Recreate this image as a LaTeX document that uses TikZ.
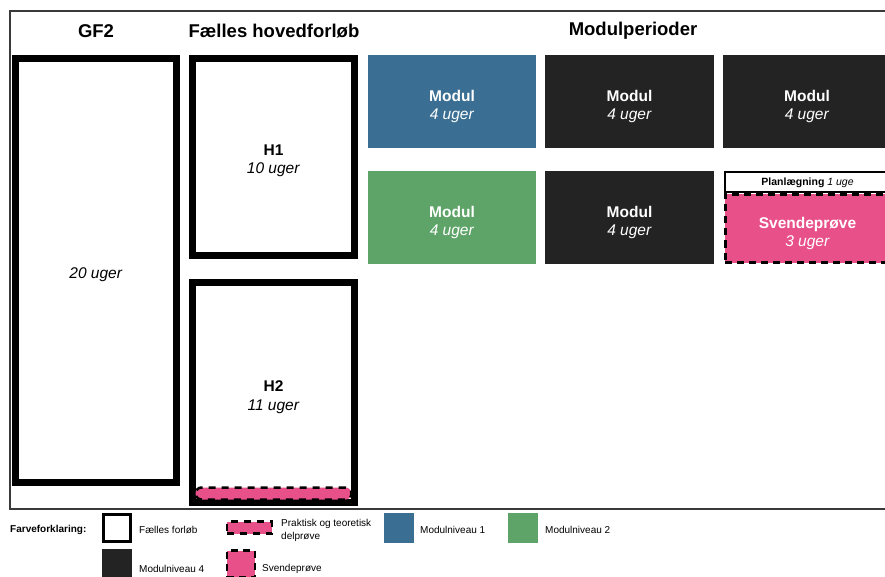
\documentclass[tikz,border=0pt]{standalone}
\usepackage{fontspec}
\setmainfont{Liberation Sans}
\definecolor{mblue}{HTML}{3A6F93}
\definecolor{mgreen}{HTML}{5EA469}
\definecolor{mdark}{HTML}{232323}
\definecolor{mpink}{HTML}{E8508A}
\definecolor{frameline}{HTML}{3A3A3A}
\begin{document}
\begin{tikzpicture}[x=1pt,y=-1pt,
  heading/.style={font=\fontsize{18.5}{22}\selectfont\bfseries, inner sep=0pt},
  thickbox/.style={draw=black, line width=7pt, fill=white, inner sep=0pt},
  boxtext/.style={inner sep=0pt, align=center, font=\fontsize{15.5}{18.5}\selectfont},
  modbox/.style={inner sep=0pt},
  modtext/.style={boxtext, text=white},
  dashedpink/.style={fill=mpink, draw=black, line width=3pt, dash pattern=on 7pt off 5pt, inner sep=0pt},
  legtext/.style={anchor=west, inner sep=0pt, align=left, font=\fontsize{10}{13}\selectfont},
  legsq/.style={minimum width=30pt, minimum height=30pt, inner sep=0pt},
]
\clip (0,0) rectangle (885,577);
\useasboundingbox (0,0) rectangle (885,577);
\fill[white] (0,0) rectangle (885,577);
% frame
\draw[frameline, line width=1.3pt] (10,11) rectangle (900,509);

% headings
\node[heading] (hgf) at (96,31) {GF2};
\node[heading] (hfh) at (274,31) {Fælles hovedforløb};
\node[heading] (hmp) at (633,31) {Modulperioder};

% GF2 and H1/H2
\node[thickbox, minimum width=161pt, minimum height=424pt] (gf2) at (96,270.5) {};
\node[boxtext] (gf2t) at ([yshift=-4pt]gf2.center) {\textit{20 uger}};
\node[thickbox, minimum width=162pt, minimum height=197pt] (h1) at (273.5,157) {};
\node[boxtext] (h1t) at ([yshift=-4pt]h1.center) {\textbf{H1}\\\textit{10 uger}};
\node[thickbox, minimum width=162pt, minimum height=220pt] (h2) at (273.5,392.5) {};
\node[boxtext] (h2t) at (273.5,397) {\textbf{H2}\\\textit{11 uger}};
\node[dashedpink, line width=2.5pt, dash pattern=on 7pt off 6pt, rounded corners=6pt,
  minimum width=156pt, minimum height=12pt] (delp) at (273.5,493.5) {};

% modules
\node[modbox, fill=mblue, minimum width=168pt, minimum height=93pt] (m11) at (452,101.5) {};
\node[modbox, fill=mdark, minimum width=169pt, minimum height=93pt] (m12) at (629.5,101.5) {};
\node[modbox, fill=mdark, minimum width=168pt, minimum height=93pt] (m13) at (807,101.5) {};
\node[modbox, fill=mgreen, minimum width=168pt, minimum height=93pt] (m21) at (452,217.5) {};
\node[modbox, fill=mdark, minimum width=169pt, minimum height=93pt] (m22) at (629.5,217.5) {};
\foreach \m in {m11,m12,m13,m21,m22}{
  \node[modtext] (\m t) at ([yshift=-5pt]\m.center) {\textbf{Modul}\\\textit{4 uger}};
}
\node[draw=black, line width=2pt, fill=white, inner sep=0pt, minimum width=165pt, minimum height=20pt,
  font=\fontsize{10.5}{12}\selectfont] (plan) at (807.5,182.5) {\textbf{Planlægning} \textit{1 uge}};
\node[dashedpink, minimum width=165pt, minimum height=68pt] (svend) at (807.5,228.5) {};
\node[modtext] (svendt) at ([yshift=-5pt]svend.center) {\textbf{Svendeprøve}\\\textit{3 uger}};

% legend
\node[anchor=west, inner sep=0pt, font=\fontsize{10}{12}\selectfont\bfseries] (leg) at (10,530) {Farveforklaring:};
\node[legsq, draw=black, line width=3pt, fill=white, minimum width=27pt, minimum height=27pt] (l1) at (117,528) {};
\node[legtext] (l1t) at (139,530) {Fælles forløb};
\node[dashedpink, line width=2.5pt, dash pattern=on 7pt off 6pt, minimum width=45pt, minimum height=12pt] (l2) at (249.5,527.5) {};
\node[legtext] (l2t) at (281,530) {Praktisk og teoretisk\\delprøve};
\node[legsq, fill=mblue] (l3) at (398.5,528) {};
\node[legtext] (l3t) at (420,530) {Modulniveau 1};
\node[legsq, fill=mgreen] (l4) at (523,528) {};
\node[legtext] (l4t) at (545,530) {Modulniveau 2};
\node[legsq, fill=mdark] (l5) at (117,564) {};
\node[legtext] (l5t) at (139,569) {Modulniveau 4};
\node[dashedpink, line width=2.5pt, minimum width=28pt, minimum height=27pt] (l6) at (241,564) {};
\node[legtext] (l6t) at (262,569) {Svendeprøve};
\end{tikzpicture}
\end{document}
